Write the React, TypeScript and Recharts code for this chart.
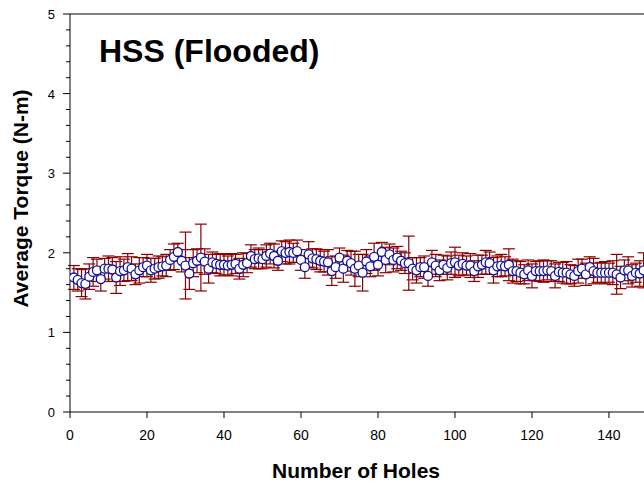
import React from 'react';
import { ScatterChart, Scatter, XAxis, YAxis, ErrorBar, ReferenceLine } from 'recharts';

// Average torque per hole (holes 1..149)
const torque = [
  1.69, 1.66, 1.62, 1.61, 1.70, 1.76, 1.78, 1.67, 1.80, 1.80,
  1.79, 1.69, 1.77, 1.78, 1.82, 1.80, 1.73, 1.78, 1.82, 1.84,
  1.78, 1.80, 1.82, 1.83, 1.84, 1.91, 1.95, 2.01, 1.90, 1.84,
  1.74, 1.87, 1.90, 1.94, 1.89, 1.80, 1.88, 1.86, 1.85, 1.85,
  1.84, 1.85, 1.86, 1.80, 1.85, 1.87, 1.96, 1.92, 1.93, 1.92,
  1.96, 1.99, 1.96, 1.90, 2.02, 2.00, 2.01, 2.00, 2.02, 1.91,
  1.82, 1.98, 1.93, 1.92, 1.90, 1.89, 1.88, 1.77, 1.82, 1.94,
  1.80, 1.90, 1.87, 1.80, 1.84, 1.75, 1.89, 1.83, 1.95, 1.85,
  2.01, 1.91, 1.98, 1.91, 1.94, 1.90, 1.87, 1.87, 1.80, 1.78,
  1.82, 1.82, 1.71, 1.88, 1.84, 1.78, 1.85, 1.81, 1.87, 1.88,
  1.84, 1.86, 1.84, 1.84, 1.77, 1.83, 1.85, 1.88, 1.87, 1.78,
  1.83, 1.84, 1.83, 1.85, 1.77, 1.77, 1.75, 1.73, 1.78, 1.71,
  1.77, 1.77, 1.77, 1.78, 1.77, 1.71, 1.76, 1.75, 1.75, 1.73,
  1.71, 1.77, 1.80, 1.73, 1.82, 1.77, 1.75, 1.75, 1.75, 1.75,
  1.75, 1.73, 1.69, 1.78, 1.78, 1.71, 1.75, 1.74, 1.78,
];

// Standard deviation per hole
const torqueSD = [
  0.15, 0.14, 0.17, 0.19, 0.16, 0.18, 0.14, 0.15, 0.13, 0.16,
  0.15, 0.20, 0.18, 0.14, 0.17, 0.15, 0.13, 0.16, 0.12, 0.14,
  0.15, 0.13, 0.14, 0.12, 0.14, 0.13, 0.16, 0.11, 0.14, 0.42,
  0.20, 0.17, 0.15, 0.42, 0.16, 0.18, 0.13, 0.12, 0.14, 0.13,
  0.12, 0.14, 0.12, 0.13, 0.15, 0.12, 0.14, 0.12, 0.13, 0.12,
  0.14, 0.13, 0.15, 0.12, 0.13, 0.14, 0.15, 0.12, 0.14, 0.13,
  0.14, 0.16, 0.12, 0.13, 0.14, 0.13, 0.16, 0.18, 0.14, 0.12,
  0.17, 0.13, 0.15, 0.22, 0.14, 0.23, 0.15, 0.13, 0.17, 0.14,
  0.12, 0.16, 0.13, 0.15, 0.14, 0.12, 0.13, 0.34, 0.14, 0.16,
  0.12, 0.14, 0.13, 0.15, 0.14, 0.13, 0.12, 0.15, 0.14, 0.19,
  0.13, 0.14, 0.12, 0.15, 0.13, 0.14, 0.12, 0.15, 0.14, 0.16,
  0.13, 0.14, 0.12, 0.20, 0.15, 0.13, 0.14, 0.12, 0.13, 0.15,
  0.12, 0.13, 0.14, 0.12, 0.13, 0.15, 0.12, 0.13, 0.14, 0.12,
  0.13, 0.15, 0.12, 0.14, 0.13, 0.16, 0.12, 0.13, 0.14, 0.12,
  0.15, 0.25, 0.14, 0.13, 0.17, 0.14, 0.12, 0.16, 0.22,
];

const xTicks = [0, 20, 40, 60, 80, 100, 120, 140];
const yTicks = [0, 0.2, 0.4, 0.6, 0.8, 1, 1.2, 1.4, 1.6, 1.8, 2, 2.2, 2.4, 2.6, 2.8, 3, 3.2, 3.4, 3.6, 3.8, 4, 4.2, 4.4, 4.6, 4.8, 5];

const titleText = 'HSS (Flooded)';
const xLabel = 'Number of Holes';
const yLabel = 'Average Torque (N-m)';

const data = torque.map((t, i) => ({ hole: i + 1, torque: t, sd: torqueSD[i] }));

const FONT = "Arial, 'Liberation Sans', sans-serif";

const YTick = (props: any) => {
  const { x, y, payload } = props;
  const v = payload.value;
  const major = Math.abs(v - Math.round(v)) < 1e-6;
  return (
    <g>
      <line x1={x - (major ? 7 : 4)} x2={x} y1={y} y2={y} stroke="#000" strokeWidth={1} />
      {major && (
        <text x={x - 15} y={y} dy={5} textAnchor="end" fontSize={13} fill="#000" fontFamily={FONT}>
          {Math.round(v)}
        </text>
      )}
    </g>
  );
};

const Marker = (props: any) => {
  const { cx, cy } = props;
  if (cx == null || cy == null) return null;
  return <circle cx={cx} cy={cy} r={4.5} fill="#ffffff" stroke="#10109a" strokeWidth={1.3} />;
};

export default function App() {
  return (
    <div style={{ position: 'absolute', left: 0, top: 0, width: 644, height: 487, overflow: 'hidden', background: '#fff' }}>
      <ScatterChart width={644} height={487} margin={{ top: 14, right: 0, bottom: 0, left: 0 }}>
        <XAxis
          type="number"
          dataKey="hole"
          domain={[0, 149.1]}
          ticks={xTicks}
          interval={0}
          allowDataOverflow
          height={75}
          axisLine={{ stroke: '#000' }}
          tickLine={{ stroke: '#000' }}
          tickSize={6}
          tickMargin={12}
          tick={{ fontSize: 14, fill: '#000', fontFamily: FONT }}
        />
        <YAxis
          type="number"
          dataKey="torque"
          domain={[0, 5]}
          ticks={yTicks}
          interval={0}
          width={70}
          tickLine={false}
          tickSize={0}
          tickMargin={0}
          axisLine={{ stroke: '#000' }}
          tick={<YTick />}
        />
        <ReferenceLine y={5} stroke="#000" strokeWidth={1} />
        <Scatter data={data} isAnimationActive={false} shape={<Marker />}>
          <ErrorBar dataKey="sd" direction="y" width={6} stroke="#8b0000" strokeWidth={1.2} />
        </Scatter>
      </ScatterChart>
      <svg width={644} height={487} style={{ position: 'absolute', left: 0, top: 0, pointerEvents: 'none' }}>
        <text x={99} y={62} fontSize={32} fontWeight="bold" fill="#000" fontFamily={FONT}>
          {titleText}
        </text>
        <text
          x={28}
          y={198.5}
          transform="rotate(-90 28 198.5)"
          textAnchor="middle"
          fontSize={21}
          fontWeight="bold"
          fill="#000"
          fontFamily={FONT}
        >
          {yLabel}
        </text>
        <text x={356} y={478} textAnchor="middle" fontSize={21} fontWeight="bold" fill="#000" fontFamily={FONT}>
          {xLabel}
        </text>
      </svg>
    </div>
  );
}
